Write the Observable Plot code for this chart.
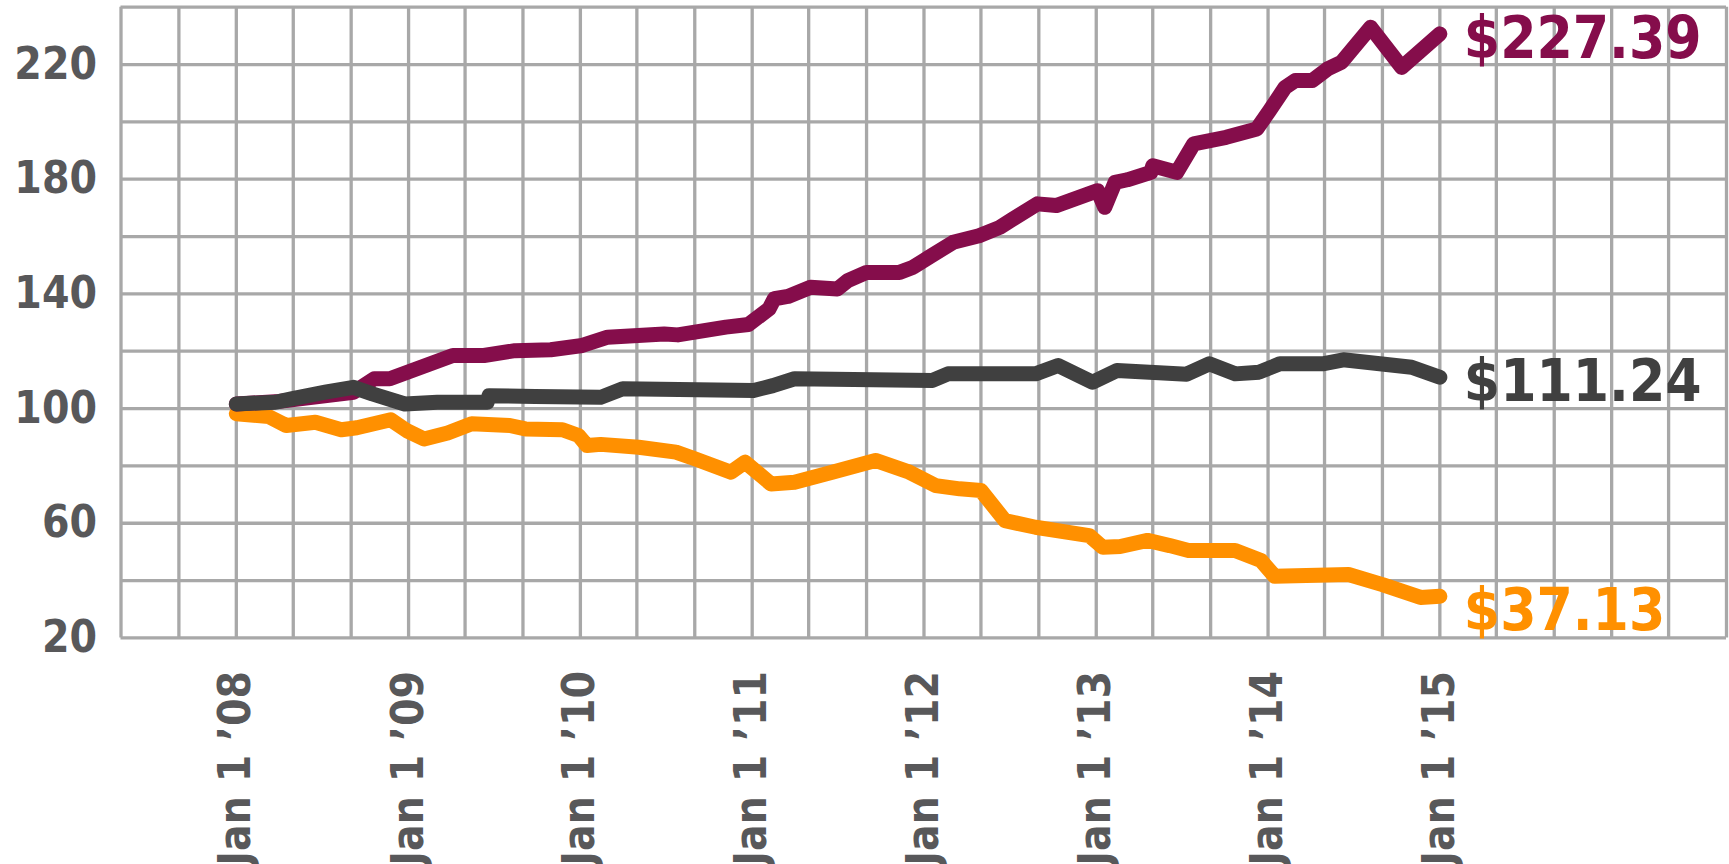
<!DOCTYPE html>
<html>
<head>
<meta charset="utf-8">
<script src="https://cdn.jsdelivr.net/npm/d3@7"></script>
<script src="https://cdn.jsdelivr.net/npm/@observablehq/plot@0.6"></script>
<style>
  html, body { margin: 0; padding: 0; background: #fff; overflow: hidden; }
  #chart svg { display: block; }
  #chart svg text { font-weight: bold; font-stretch: semi-condensed; }
</style>
</head>
<body>
<div id="chart"></div>
<script>
// ---------- data ----------
const maroonDates = ["2008-01-01","2008-04-01","2008-09-06","2008-10-20","2008-11-22","2009-04-05","2009-06-10","2009-08-15","2009-10-30","2010-01-05","2010-02-28","2010-06-28","2010-07-27","2010-11-06","2010-12-24","2011-02-06","2011-02-17","2011-03-18","2011-05-05","2011-07-01","2011-07-23","2011-09-01","2011-11-10","2011-12-09","2012-01-12","2012-03-03","2012-04-27","2012-06-10","2012-07-05","2012-08-29","2012-10-08","2013-01-04","2013-01-19","2013-02-10","2013-03-08","2013-04-27","2013-05-01","2013-06-21","2013-07-27","2013-10-04","2013-12-08","2014-01-04","2014-02-06","2014-02-28","2014-04-05","2014-05-08","2014-06-06","2014-08-07","2014-10-12","2015-01-01"];
const maroonValues = [101.6,102.5,105.7,110.4,110.4,118.5,118.5,120.2,120.5,122.0,124.9,126.0,125.7,128.4,129.3,134.8,138.3,139.1,142.3,141.7,144.6,147.5,147.5,149.3,152.8,158.0,160.3,163.2,165.8,171.4,170.8,176.0,170.2,178.9,179.8,182.4,184.7,182.4,192.3,194.6,197.5,203.9,212.0,214.4,214.4,218.5,220.8,233.0,219.0,230.7];

const grayDates = ["2008-01-01","2008-03-24","2008-04-27","2008-07-08","2008-09-06","2008-10-16","2008-12-24","2009-03-03","2009-06-17","2009-06-21","2009-09-27","2010-02-13","2010-04-01","2011-01-04","2011-02-14","2011-04-01","2012-01-19","2012-02-21","2012-08-25","2012-10-12","2012-12-24","2013-02-14","2013-07-12","2013-08-29","2013-10-23","2013-12-13","2014-01-26","2014-04-27","2014-06-10","2014-11-02","2015-01-01"];
const grayValues = [101.6,102.2,103.4,105.7,107.4,105.1,101.6,102.2,102.2,104.5,104.2,103.9,106.9,106.3,108.0,110.4,109.8,112.1,112.1,115.0,109.2,113.3,112.0,115.6,112.1,112.7,115.6,115.6,117.0,114.4,110.9];

const orangeDates = ["2008-01-01","2008-03-10","2008-04-16","2008-06-17","2008-08-11","2008-09-13","2008-11-24","2008-12-28","2009-02-03","2009-03-25","2009-05-15","2009-08-04","2009-09-06","2009-11-24","2009-12-28","2010-01-15","2010-02-13","2010-05-05","2010-07-23","2010-09-01","2010-11-17","2010-12-17","2011-02-10","2011-04-01","2011-06-20","2011-09-20","2011-12-01","2012-01-26","2012-03-17","2012-05-01","2012-06-21","2012-08-25","2012-12-17","2013-01-15","2013-02-21","2013-04-20","2013-06-06","2013-07-16","2013-10-23","2013-12-17","2014-01-15","2014-06-21","2014-09-01","2014-11-21","2015-01-01"];
const orangeValues = [98.2,97.2,94.1,95.2,92.6,93.3,96.1,92.3,89.4,91.5,94.7,94.1,92.9,92.6,90.6,87.1,87.5,86.5,84.8,82.5,77.8,81.3,73.7,74.3,77.8,81.9,77.8,73.1,72.0,71.4,60.9,58.6,55.7,51.6,51.9,54.0,52.2,50.5,50.5,47.0,41.5,42.1,38.6,34.1,34.5];

const endLabels = { maroon: "$227.39", gray: "$111.24", orange: "$37.13" };
const xTickDates = ["2008-01-01","2009-01-01","2010-01-01","2011-01-01","2012-01-01","2013-01-01","2014-01-01","2015-01-01"];
const xTickLabels = ["Jan 1 \u201908","Jan 1 \u201909","Jan 1 \u201910","Jan 1 \u201911","Jan 1 \u201912","Jan 1 \u201913","Jan 1 \u201914","Jan 1 \u201915"];
const yTicks = [20, 60, 100, 140, 180, 220];

// ---------- build tables ----------
const toRows = (dates, values) => dates.map((d, i) => ({date: new Date(d), value: values[i]}));
const maroon = toRows(maroonDates, maroonValues);
const gray = toRows(grayDates, grayValues);
const orange = toRows(orangeDates, orangeValues);

const colors = { maroon: "#850d4b", gray: "#404040", orange: "#ff9000" };
const xDomain = [new Date("2007-05-01"), new Date("2016-09-01")];
const yDomain = [20, 240];

const vGrid = d3.utcMonth.every(4).range(xDomain[0], new Date("2016-09-02"));
const hGrid = d3.range(20, 241, 20);
const tickDates = xTickDates.map(d => new Date(d));
const tickLabelMap = new Map(tickDates.map((d, i) => [+d, xTickLabels[i]]));

const last = arr => [arr[arr.length - 1]];
const gridStyle = { stroke: "#a8a8a8", strokeWidth: 3.3, strokeOpacity: 1 };
const fontFamily = "'DejaVu Sans Condensed', 'DejaVu Sans', sans-serif";
const lineWidth = 15;

const chart = Plot.plot({
  width: 1729,
  height: 864,
  marginLeft: 120.5,
  marginRight: 3,
  marginTop: 6.7,
  marginBottom: 226.6,
  style: { fontFamily, background: "#fff", overflow: "visible" },
  x: { type: "utc", domain: xDomain },
  y: { domain: yDomain },
  marks: [
    Plot.ruleX(vGrid, gridStyle),
    Plot.ruleY(hGrid, gridStyle),
    Plot.axisY(yTicks, {
      tickSize: 0, tickPadding: 24, fontSize: 44, fill: "#58585a", label: null
    }),
    Plot.axisX(tickDates, {
      tickSize: 0, tickPadding: 33, tickRotate: -90, fontSize: 44, fill: "#58585a",
      label: null, tickFormat: d => tickLabelMap.get(+d)
    }),
    Plot.lineY(orange, { x: "date", y: "value", stroke: colors.orange, strokeWidth: lineWidth }),
    Plot.lineY(maroon, { x: "date", y: "value", stroke: colors.maroon, strokeWidth: lineWidth }),
    Plot.lineY(gray, { x: "date", y: "value", stroke: colors.gray, strokeWidth: lineWidth }),
    Plot.text(last(maroon), { x: "date", y: "value", text: () => endLabels.maroon, fill: colors.maroon,
      fontSize: 58, textAnchor: "start", lineAnchor: "middle", dx: 24, dy: 6 }),
    Plot.text(last(gray), { x: "date", y: "value", text: () => endLabels.gray, fill: colors.gray,
      fontSize: 58, textAnchor: "start", lineAnchor: "middle", dx: 24, dy: 5 }),
    Plot.text(last(orange), { x: "date", y: "value", text: () => endLabels.orange, fill: colors.orange,
      fontSize: 58, textAnchor: "start", lineAnchor: "middle", dx: 24, dy: 15 })
  ]
});
document.getElementById("chart").appendChild(chart);
</script>
</body>
</html>
